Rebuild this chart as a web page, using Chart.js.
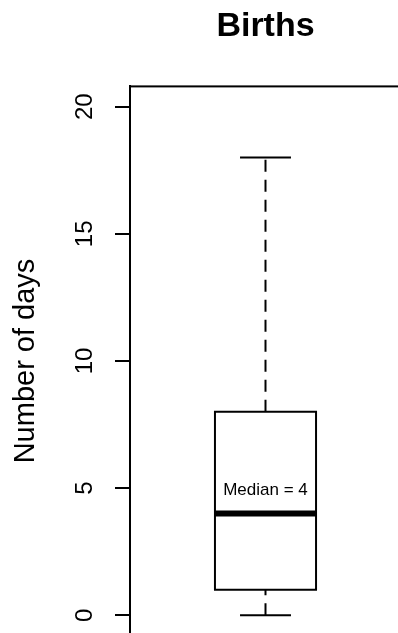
<!DOCTYPE html>
<html>
<head>
<meta charset="utf-8">
<title>Births</title>
<script src="https://cdn.jsdelivr.net/npm/chart.js@4.4.1/dist/chart.umd.min.js"></script>
<style>
    html, body { margin: 0; padding: 0; background: #fff; overflow: hidden; }
    #birthsChart { display: block; }
</style>
</head>
<body>
<canvas id="birthsChart" width="420" height="666"></canvas>
<script>
// Box plot summary: min, lower quartile, median, upper quartile, max
const category = 'Births';
const boxStats = [0, 1, 4, 8, 18];
const yTicks = [0, 5, 10, 15, 20];
const yLimits = [-0.8, 20.8];

// drawing sizes (x units on a 0..2 axis, box centred at 1)
const boxHalf = 0.373;
const capHalf = 0.188;
const fontFamily = '"Liberation Sans", Arial, sans-serif';

const [vMin, q1, med, q3, vMax] = boxStats;

function seg(x1, y1, x2, y2) {
    return [{ x: x1, y: y1 }, { x: x2, y: y2 }];
}

function lineSet(data, width, dash) {
    return {
        data: data,
        showLine: true,
        borderColor: '#000',
        borderWidth: width,
        borderDash: dash || [],
        pointRadius: 0,
        pointHoverRadius: 0,
        fill: false
    };
}

// R style frame round the plot region, plus the median label
const boxFrame = {
    id: 'boxFrame',
    afterDatasetsDraw(chart) {
        const { ctx, chartArea: a, scales: { x, y } } = chart;
        ctx.save();
        ctx.strokeStyle = '#000';
        ctx.lineWidth = 2;
        ctx.strokeRect(a.left, a.top, a.right - a.left, a.bottom - a.top);
        ctx.fillStyle = '#000';
        ctx.font = '17px ' + fontFamily;
        ctx.textAlign = 'center';
        ctx.textBaseline = 'alphabetic';
        ctx.fillText('Median = ' + med, x.getPixelForValue(1), y.getPixelForValue(med) - 19);
        ctx.restore();
    }
};

const ctx = document.getElementById('birthsChart');
const birthsChart = new Chart(ctx.getContext('2d'), {
    type: 'scatter',
    data: {
        datasets: [
            lineSet(seg(1, q3, 1, vMax), 2, [12, 8]),   // upper whisker
            lineSet(seg(1, vMin, 1, q1), 2, [12, 8]),   // lower whisker
            lineSet(seg(1 - capHalf, vMax, 1 + capHalf, vMax), 2),
            lineSet(seg(1 - capHalf, vMin, 1 + capHalf, vMin), 2),
            lineSet([
                { x: 1, y: q1 },
                { x: 1 + boxHalf, y: q1 },
                { x: 1 + boxHalf, y: q3 },
                { x: 1 - boxHalf, y: q3 },
                { x: 1 - boxHalf, y: q1 },
                { x: 1, y: q1 }
            ], 2),
            lineSet(seg(1 - boxHalf, med, 1 + boxHalf, med), 6)  // median
        ]
    },
    options: {
        responsive: false,
        animation: false,
        layout: { padding: { top: 0, right: 19, bottom: 25, left: 0 } },
        plugins: {
            legend: { display: false },
            tooltip: { enabled: false },
            title: {
                display: true,
                text: category,
                fullSize: false,
                color: '#000',
                font: { family: fontFamily, size: 34, weight: 'bold', lineHeight: 1.2 },
                padding: { top: 6, bottom: 39.6 }
            }
        },
        scales: {
            x: { type: 'linear', display: false, min: 0, max: 2 },
            y: {
                min: yLimits[0],
                max: yLimits[1],
                afterFit: function(scale) { scale.width = 130; },
                afterBuildTicks: function(scale) {
                    scale.ticks = yTicks.map(v => ({ value: v }));
                },
                border: { display: true, color: '#000', width: 2 },
                grid: { drawOnChartArea: false, drawTicks: true, tickLength: 15, color: '#000', lineWidth: 2 },
                ticks: {
                    minRotation: 90,
                    maxRotation: 90,
                    crossAlign: 'center',
                    padding: 16,
                    color: '#000',
                    font: { family: fontFamily, size: 24 }
                },
                title: {
                    display: true,
                    text: 'Number of days',
                    color: '#000',
                    font: { family: fontFamily, size: 29 },
                    padding: { top: 9, bottom: 0 }
                }
            }
        }
    },
    plugins: [boxFrame]
});
</script>
</body>
</html>
